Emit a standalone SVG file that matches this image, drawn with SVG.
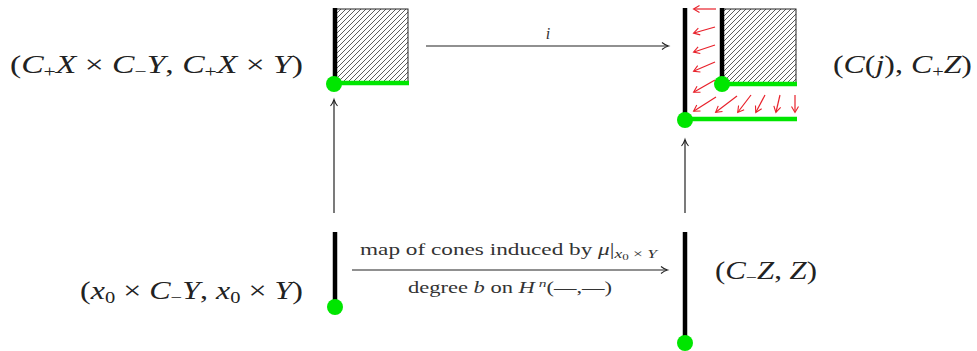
<svg xmlns="http://www.w3.org/2000/svg" width="977" height="351" viewBox="0 0 977 351">
<style>
.m{font-family:"Liberation Serif","DejaVu Serif",serif;font-size:25px;fill:#222}
.i{font-style:italic}
.s{font-size:16px}
.lbl{font-family:"Liberation Serif","DejaVu Serif",serif;font-size:16px;fill:#333}
.bar{stroke:#000;stroke-width:4.5;fill:none}
.gl{stroke:#00e600;stroke-width:4.5;fill:none}
.dot{fill:#00e600}
.sq{fill:url(#hatch);stroke:#222;stroke-width:1}
.ar{stroke:#222;stroke-width:1.2;fill:none;marker-end:url(#ah)}
.rd{stroke:#e8202a;stroke-width:1.2;fill:none;marker-end:url(#rh)}
</style>
<defs>
<pattern id="hatch" patternUnits="userSpaceOnUse" width="5" height="5">
<path d="M0,5 L5,0 M-1,1 L1,-1 M4,6 L6,4" stroke="#333" stroke-width="0.8"/>
</pattern>
<marker id="ah" markerWidth="10" markerHeight="10" refX="7" refY="5" orient="auto" markerUnits="userSpaceOnUse">
<path d="M1,1.5 Q4,4 7.5,5 Q4,6 1,8.5" stroke="#222" stroke-width="1.1" fill="none"/>
</marker>
<marker id="rh" markerWidth="10" markerHeight="10" refX="7" refY="5" orient="auto" markerUnits="userSpaceOnUse">
<path d="M1.5,1.5 L7.5,5 L1.5,8.5" stroke="#e8202a" stroke-width="1.1" fill="none"/>
</marker>
</defs>

<g id="node-top-left">
<rect class="sq" x="335" y="9" width="73" height="73"/>
<line class="bar" x1="335" y1="8" x2="335" y2="83"/>
<line class="gl" x1="335" y1="83" x2="409" y2="83"/>
<circle class="dot" cx="334" cy="84" r="8"/>
<text class="m" x="10" y="73" textLength="293" lengthAdjust="spacingAndGlyphs">(<tspan class="i">C</tspan><tspan class="s" dy="4">+</tspan><tspan class="i" dy="-4">X</tspan> × <tspan class="i">C</tspan><tspan class="s" dy="4">−</tspan><tspan class="i" dy="-4">Y</tspan>, <tspan class="i">C</tspan><tspan class="s" dy="4">+</tspan><tspan class="i" dy="-4">X</tspan> × <tspan class="i">Y</tspan>)</text>
</g>

<g id="node-top-right">
<rect class="sq" x="722" y="9" width="74" height="74"/>
<line class="bar" x1="685" y1="8" x2="685" y2="119"/>
<line class="bar" x1="722" y1="8" x2="722" y2="84"/>
<line class="gl" x1="722" y1="84" x2="797" y2="84"/>
<line class="gl" x1="685" y1="119" x2="797" y2="119"/>
<circle class="dot" cx="722" cy="84" r="8"/>
<circle class="dot" cx="685" cy="120" r="8"/>
<g id="retraction">
<line class="rd" x1="716" y1="9" x2="694" y2="9"/>
<line class="rd" x1="715" y1="27" x2="694" y2="33"/>
<line class="rd" x1="715" y1="45" x2="694" y2="52"/>
<line class="rd" x1="715" y1="62" x2="694" y2="71"/>
<line class="rd" x1="715" y1="80" x2="694" y2="92"/>
<line class="rd" x1="716" y1="97" x2="694" y2="111"/>
<line class="rd" x1="737" y1="96" x2="716" y2="112"/>
<line class="rd" x1="751" y1="95" x2="738" y2="112"/>
<line class="rd" x1="765" y1="95" x2="756" y2="112"/>
<line class="rd" x1="780" y1="95" x2="776" y2="112"/>
<line class="rd" x1="795" y1="95" x2="795" y2="112"/>
</g>
<text class="m" x="833" y="73" textLength="139" lengthAdjust="spacingAndGlyphs">(<tspan class="i">C</tspan>(<tspan class="i">j</tspan>), <tspan class="i">C</tspan><tspan class="s" dy="4">+</tspan><tspan class="i" dy="-4">Z</tspan>)</text>
</g>

<g id="node-bottom-left">
<line class="bar" x1="335" y1="232" x2="335" y2="305"/>
<circle class="dot" cx="335" cy="307" r="8"/>
<text class="m" x="80" y="299" textLength="223" lengthAdjust="spacingAndGlyphs">(<tspan class="i">x</tspan><tspan class="s" dy="4">0</tspan><tspan dy="-4"> × </tspan><tspan class="i">C</tspan><tspan class="s" dy="4">−</tspan><tspan class="i" dy="-4">Y</tspan>, <tspan class="i">x</tspan><tspan class="s" dy="4">0</tspan><tspan dy="-4"> × </tspan><tspan class="i">Y</tspan>)</text>
</g>

<g id="node-bottom-right">
<line class="bar" x1="685" y1="232" x2="685" y2="341"/>
<circle class="dot" cx="685" cy="343" r="8"/>
<text class="m" x="715" y="279" textLength="102" lengthAdjust="spacingAndGlyphs">(<tspan class="i">C</tspan><tspan class="s" dy="4">−</tspan><tspan class="i" dy="-4">Z</tspan>, <tspan class="i">Z</tspan>)</text>
</g>

<g id="connectors">
<line class="ar" x1="426" y1="46" x2="668" y2="46"/>
<text class="lbl i" x="548" y="39" text-anchor="middle">i</text>
<line class="ar" x1="334" y1="213" x2="334" y2="100"/>
<line class="ar" x1="685" y1="213" x2="685" y2="140"/>
<line class="ar" x1="352" y1="270" x2="667" y2="270"/>
<text class="lbl" x="360" y="255" textLength="297" lengthAdjust="spacingAndGlyphs">map of cones induced by <tspan class="i">μ</tspan>|<tspan class="i" font-size="12" dy="3">x</tspan><tspan font-size="9" dy="2">0</tspan><tspan font-size="12" dy="-2"> × </tspan><tspan class="i" font-size="12">Y</tspan></text>
<text class="lbl" x="408" y="293" textLength="204" lengthAdjust="spacingAndGlyphs">degree <tspan class="i">b</tspan> on <tspan class="i">H</tspan><tspan class="i" font-size="11" dy="-6"> n</tspan><tspan dy="6">(—,—)</tspan></text>
</g>
</svg>
